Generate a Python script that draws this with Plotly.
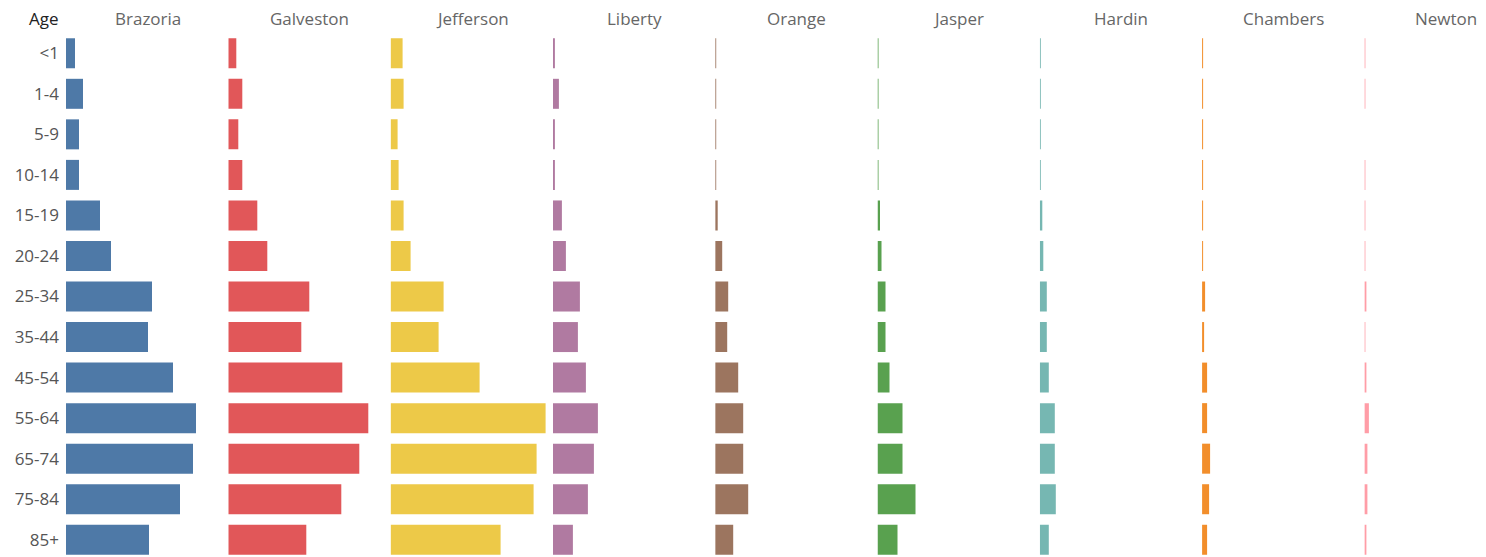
import plotly.graph_objects as go

ages = ["<1", "1-4", "5-9", "10-14", "15-19", "20-24", "25-34", "35-44",
        "45-54", "55-64", "65-74", "75-84", "85+"]

counties = ["Brazoria", "Galveston", "Jefferson", "Liberty", "Orange",
            "Jasper", "Hardin", "Chambers", "Newton"]

brazoria = [9, 17, 13, 13, 34, 45, 86, 82, 107, 130, 127, 114, 83]
galveston = [8, 14, 10, 14, 29, 39, 81, 73, 114, 140, 131, 113, 78]
jefferson = [12, 13, 7, 8, 13, 20, 53, 48, 89, 155, 146, 143, 110]
liberty = [2, 6, 2, 2, 9, 13, 27, 25, 33, 45, 41, 35, 20]
orange = [1, 1, 1, 1, 2.5, 7, 13, 12, 23, 28, 28, 33, 18]
jasper = [1, 1, 1, 1, 2.5, 4, 8, 8, 12, 25, 25, 38, 20]
hardin = [1, 1, 1, 1, 2.5, 3.5, 7, 7, 9, 15, 15, 16, 9]
chambers = [1, 1, 1, 1, 1, 1, 3, 2, 5, 5, 8, 7, 5]
newton = [1, 1, 0, 1, 1, 1, 2, 1, 1.5, 4.5, 3, 3, 2]

series = [brazoria, galveston, jefferson, liberty, orange, jasper, hardin, chambers, newton]
colors = ["#4e79a7", "#e15759", "#edc948", "#b07aa1", "#9c755f",
          "#59a14f", "#76b7b2", "#f28e2b", "#ff9da7"]

# the page body has an 8px margin, so the figure is offset by 8px
OFF = 8
W, H = 1486 - OFF, 557 - OFF
TOP, BOT = 32.5 - OFF, 0
first_start = 66.0 - OFF
step = 162.3
col_w = 160.0
header_y = 18 - OFF
PH = H - TOP - BOT
row_px = 40.58
rows_visible = PH / row_px

fig = go.Figure()
layout = dict(
    width=W, height=H,
    margin=dict(l=0, r=0, t=TOP, b=BOT, pad=0),
    paper_bgcolor="white", plot_bgcolor="white",
    showlegend=False,
    bargap=0.26,
    font=dict(family="Open Sans", size=17, color="#555555"),
    annotations=[],
)

for i, (name, vals, col) in enumerate(zip(counties, series, colors)):
    ax = "x" if i == 0 else f"x{i+1}"
    fig.add_trace(go.Bar(
        y=ages, x=vals, orientation="h", xaxis=ax, yaxis="y",
        marker=dict(color=col, line=dict(width=0)), name=name,
        hoverinfo="x+y",
    ))
    start = first_start + i * step
    end = min(start + col_w, W)
    key = "xaxis" if i == 0 else f"xaxis{i+1}"
    layout[key] = dict(
        domain=[start / W, end / W], range=[0, end - start],
        visible=False, showgrid=False, zeroline=False, fixedrange=True,
        anchor="y",
    )
    layout["annotations"].append(dict(
        text=name, xref="paper", yref="paper",
        x=(start + 81.5) / W, y=1 + (TOP - header_y) / PH,
        xanchor="center", yanchor="middle", showarrow=False,
        font=dict(family="Open Sans", size=17, color="#666666"),
    ))

layout["annotations"].append(dict(
    text="Age", xref="paper", yref="paper",
    x=(61 - OFF) / W, y=1 + (TOP - header_y) / PH,
    xanchor="right", yanchor="middle", showarrow=False,
    font=dict(family="Open Sans", size=17, color="#222222"),
))

layout["yaxis"] = dict(
    type="category", categoryorder="array", categoryarray=ages,
    range=[-0.5 + rows_visible, -0.5],
    showgrid=False, zeroline=False, showline=False,
    ticks="", ticklabelstandoff=6, anchor="x", domain=[0, 1],
    tickfont=dict(family="Open Sans", size=17, color="#555555"),
    fixedrange=True,
)

fig.update_layout(**layout)
fig.write_html("out.html")
